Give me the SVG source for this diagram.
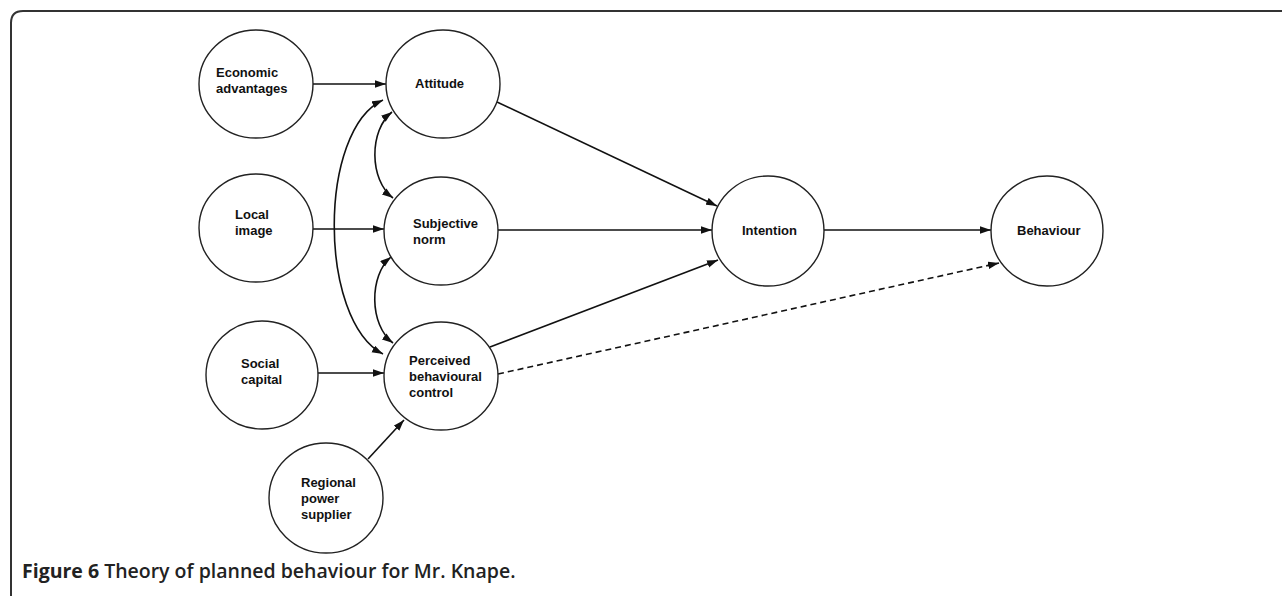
<svg xmlns="http://www.w3.org/2000/svg" width="1282" height="596" viewBox="0 0 1282 596">
<style>
.node ellipse{fill:#fff;stroke:#222;stroke-width:1.4}
.node text{font-family:"Liberation Sans",Arial,sans-serif;font-weight:bold;font-size:13px;fill:#111}
.edge{fill:none;stroke:#111;stroke-width:1.6}
.dash{stroke-dasharray:6,4}
.cap{font-family:"Open Sans","Liberation Sans",sans-serif;font-size:19.5px;fill:#222}
</style>
<defs>
<marker id="ah" markerUnits="userSpaceOnUse" markerWidth="12" markerHeight="8" refX="11" refY="3.75" orient="auto-start-reverse">
<path d="M0,0 L11,3.75 L0,7.5 z" fill="#111"/>
</marker>
</defs>
<rect width="1282" height="596" fill="#fff"/>
<path d="M11,596 V23 Q11,11 23,11 H1282" fill="none" stroke="#333" stroke-width="2"/>
<g id="connectors">
<line class="edge" x1="313" y1="84" x2="386" y2="84" marker-end="url(#ah)"/>
<line class="edge" x1="313" y1="229" x2="384" y2="229" marker-end="url(#ah)"/>
<line class="edge" x1="318" y1="373" x2="384" y2="373" marker-end="url(#ah)"/>
<line class="edge" x1="368" y1="459" x2="404" y2="420" marker-end="url(#ah)"/>
<line class="edge" x1="497" y1="102" x2="717" y2="206" marker-end="url(#ah)"/>
<line class="edge" x1="498" y1="230" x2="712" y2="230" marker-end="url(#ah)"/>
<line class="edge" x1="490" y1="347" x2="718" y2="260" marker-end="url(#ah)"/>
<line class="edge" x1="824" y1="230" x2="991" y2="230" marker-end="url(#ah)"/>
<line class="edge dash" x1="498" y1="374" x2="999" y2="263" marker-end="url(#ah)"/>
<path class="edge" d="M383,100 C318,130 318,320 383,354" marker-start="url(#ah)" marker-end="url(#ah)"/>
<path class="edge" d="M392,112 C369,130 369,180 393,198" marker-start="url(#ah)" marker-end="url(#ah)"/>
<path class="edge" d="M391,257 C369,275 369,325 393,343" marker-start="url(#ah)" marker-end="url(#ah)"/>
</g>
<g id="economic" class="node"><ellipse cx="256" cy="84" rx="57" ry="54"/><text x="216" y="77">Economic</text><text x="216" y="93">advantages</text></g>
<g id="attitude" class="node"><ellipse cx="443" cy="84" rx="57" ry="54"/><text x="415" y="88">Attitude</text></g>
<g id="local" class="node"><ellipse cx="256" cy="228" rx="57" ry="54"/><text x="235" y="219">Local</text><text x="235" y="235">image</text></g>
<g id="subjective" class="node"><ellipse cx="441" cy="231" rx="57" ry="54"/><text x="413" y="228">Subjective</text><text x="413" y="244">norm</text></g>
<g id="social" class="node"><ellipse cx="262" cy="375" rx="56" ry="54"/><text x="241" y="368">Social</text><text x="241" y="384">capital</text></g>
<g id="pbc" class="node"><ellipse cx="441" cy="376" rx="57" ry="54"/><text x="409" y="365">Perceived</text><text x="409" y="381">behavioural</text><text x="409" y="397">control</text></g>
<g id="regional" class="node"><ellipse cx="326" cy="498" rx="57" ry="55"/><text x="301" y="487">Regional</text><text x="301" y="503">power</text><text x="301" y="519">supplier</text></g>
<g id="intention" class="node"><ellipse cx="768" cy="231" rx="56" ry="55"/><text x="742" y="235">Intention</text></g>
<g id="behaviour" class="node"><ellipse cx="1047" cy="231" rx="56" ry="55"/><text x="1017" y="235">Behaviour</text></g>
<text class="cap" x="22" y="578"><tspan font-weight="bold">Figure 6</tspan><tspan font-weight="600"> Theory of planned behaviour for Mr. Knape.</tspan></text>
</svg>
